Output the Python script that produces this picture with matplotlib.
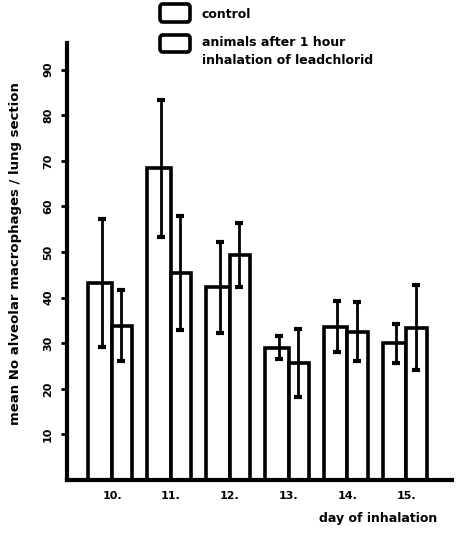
import matplotlib
matplotlib.use("Agg")
import matplotlib.pyplot as plt
from matplotlib.patches import FancyBboxPatch
import numpy as np

days = ["10.", "11.", "12.", "13.", "14.", "15."]
control_mean = [43.2, 68.4, 42.3, 29.0, 33.6, 30.0]
control_err = [14.0, 15.0, 10.0, 2.5, 5.6, 4.3]
lead_mean = [33.8, 45.4, 49.3, 25.7, 32.5, 33.4]
lead_err = [7.8, 12.5, 7.0, 7.5, 6.5, 9.3]
yticks = [10, 20, 30, 40, 50, 60, 70, 80, 90]

plt.rcParams["font.family"] = ["DejaVu Sans"]
plt.rcParams["font.weight"] = "bold"

fig = plt.figure(figsize=(4.59, 5.33), dpi=100)
ax = fig.add_axes([0.146, 0.0994, 0.839, 0.8196])

x = np.arange(len(days))
wc = 0.40   # control bar width
wl = 0.345  # lead-exposed bar width
lw = 2.6

# control bars sit left of each day position, exposed bars right of it
ax.bar(x, control_mean, width=-wc, align="edge", facecolor="white",
       edgecolor="black", linewidth=lw, zorder=2)
ax.bar(x, lead_mean, width=wl, align="edge", facecolor="white",
       edgecolor="black", linewidth=lw, zorder=2)

ax.errorbar(x - 0.17, control_mean, yerr=control_err, fmt="none",
            ecolor="black", elinewidth=2.0, capsize=3, capthick=3, zorder=3)
ax.errorbar(x + 0.16, lead_mean, yerr=lead_err, fmt="none",
            ecolor="black", elinewidth=2.0, capsize=3, capthick=3, zorder=3)

ax.set_xlim(-0.765, 5.78)
ax.set_ylim(0, 95.8)

for s in ["top", "right"]:
    ax.spines[s].set_visible(False)
ax.spines["left"].set_linewidth(3)
ax.spines["bottom"].set_linewidth(3)

ax.set_yticks(yticks)
ax.set_yticklabels([str(v) for v in yticks], rotation=90, va="center",
                   fontsize=8, fontweight="bold")
ax.tick_params(axis="y", direction="out", length=4, width=2, pad=6)
ax.set_xticks(x)
ax.set_xticklabels(days, fontsize=8, fontweight="bold")
ax.tick_params(axis="x", length=0, pad=8)

fig.text(0.033, 0.525, "mean No alveolar macrophages / lung section",
         rotation=90, ha="center", va="center", fontsize=9.5, fontweight="bold")
fig.text(0.952, 0.028, "day of inhalation", ha="right", va="center",
         fontsize=9, fontweight="bold")

# legend keys with rounded corners
for top, h in [(22, 18), (52, 17)]:
    fig.add_artist(FancyBboxPatch((160 / 459, 1 - top / 533), 30 / 459, h / 533,
                                  boxstyle="round,pad=0,rounding_size=0.006",
                                  transform=fig.transFigure, facecolor="white",
                                  edgecolor="black", linewidth=2.6))
fig.text(202 / 459, 1 - 14 / 533, "control", ha="left", va="center",
         fontsize=9, fontweight="bold")
fig.text(202 / 459, 1 - 42 / 533, "animals after 1 hour", ha="left",
         va="center", fontsize=9, fontweight="bold")
fig.text(202 / 459, 1 - 60 / 533, "inhalation of leadchlorid", ha="left",
         va="center", fontsize=9, fontweight="bold")

fig.savefig("out.png", dpi=100)
